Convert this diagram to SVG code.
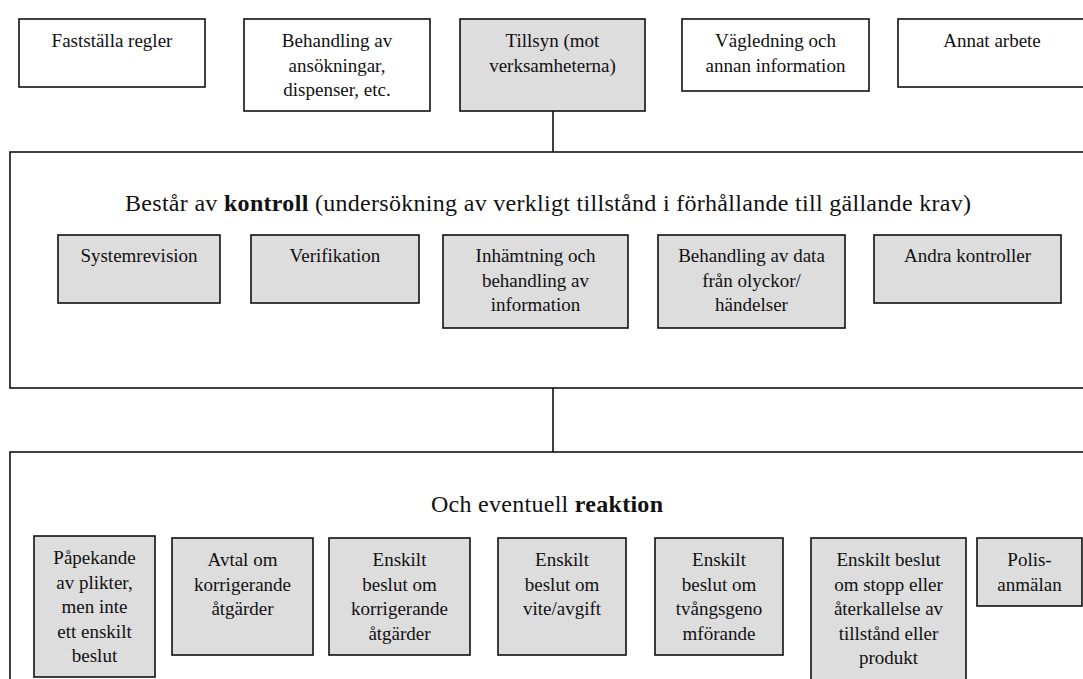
<svg xmlns="http://www.w3.org/2000/svg" width="1083" height="679" viewBox="0 0 1083 679">
  <style>
    .box { fill: #ffffff; stroke: #111111; stroke-width: 1.6; }
    .grey { fill: #dddddd; stroke: #111111; stroke-width: 1.6; }
    .frame { fill: #ffffff; stroke: #111111; stroke-width: 1.6; }
    .lbl { font-family: "Liberation Serif", "Times New Roman", serif; font-size: 19px; fill: #111111; text-anchor: middle; }
    .head { font-family: "Liberation Serif", "Times New Roman", serif; font-size: 24px; fill: #111111; text-anchor: middle; }
    .b { font-weight: bold; }
    .link { stroke: #111111; stroke-width: 1.6; fill: none; }
  </style>

  <rect width="1083" height="679" fill="#ffffff"/>

  <!-- top row: kinds of work -->
  <g id="n-faststalla">
    <rect class="box" x="19" y="19" width="186" height="68"/>
    <text class="lbl" x="112" y="47">Fastställa regler</text>
  </g>
  <g id="n-behandling">
    <rect class="box" x="244" y="19" width="186" height="92"/>
    <text class="lbl" x="337" y="47">Behandling av</text>
    <text class="lbl" x="337" y="71.5">ansökningar,</text>
    <text class="lbl" x="337" y="96">dispenser, etc.</text>
  </g>
  <g id="n-tillsyn">
    <rect class="grey" x="460" y="19" width="185" height="92"/>
    <text class="lbl" x="552.5" y="47">Tillsyn (mot</text>
    <text class="lbl" x="552.5" y="71.5">verksamheterna)</text>
  </g>
  <g id="n-vagledning">
    <rect class="box" x="682" y="19" width="187" height="72"/>
    <text class="lbl" x="775.5" y="47">Vägledning och</text>
    <text class="lbl" x="775.5" y="71.5">annan information</text>
  </g>
  <g id="n-annat">
    <rect class="box" x="898" y="19" width="192" height="68"/>
    <text class="lbl" x="992" y="47">Annat arbete</text>
  </g>

  <!-- connectors -->
  <g id="connectors">
    <line class="link" x1="553" y1="111" x2="553" y2="152"/>
    <line class="link" x1="553" y1="388" x2="553" y2="452"/>
  </g>

  <!-- control section -->
  <g id="n-kontroll">
    <rect class="frame" x="10" y="152" width="1080" height="236"/>
    <text class="head" x="548" y="211" textLength="846" lengthAdjust="spacing">Består av <tspan class="b">kontroll</tspan> (undersökning av verkligt tillstånd i förhållande till gällande krav)</text>
  </g>
  <g id="n-systemrevision">
    <rect class="grey" x="58" y="235" width="162" height="68"/>
    <text class="lbl" x="139" y="262">Systemrevision</text>
  </g>
  <g id="n-verifikation">
    <rect class="grey" x="251" y="235" width="168" height="68"/>
    <text class="lbl" x="335" y="262">Verifikation</text>
  </g>
  <g id="n-inhamtning">
    <rect class="grey" x="443" y="235" width="185" height="93"/>
    <text class="lbl" x="535.5" y="262">Inhämtning och</text>
    <text class="lbl" x="535.5" y="286.5">behandling av</text>
    <text class="lbl" x="535.5" y="311">information</text>
  </g>
  <g id="n-olyckor">
    <rect class="grey" x="658" y="235" width="187" height="93"/>
    <text class="lbl" x="751.5" y="262">Behandling av data</text>
    <text class="lbl" x="751.5" y="286.5">från olyckor/</text>
    <text class="lbl" x="751.5" y="311">händelser</text>
  </g>
  <g id="n-andra">
    <rect class="grey" x="874" y="235" width="187" height="68"/>
    <text class="lbl" x="967.5" y="262">Andra kontroller</text>
  </g>

  <!-- reaction section -->
  <g id="n-reaktion">
    <rect class="frame" x="10" y="452" width="1080" height="240"/>
    <text class="head" x="547" y="512" textLength="232" lengthAdjust="spacing">Och eventuell <tspan class="b">reaktion</tspan></text>
  </g>
  <g id="n-papekande">
    <rect class="grey" x="34" y="536" width="121" height="141"/>
    <text class="lbl" x="94.5" y="564">Påpekande</text>
    <text class="lbl" x="94.5" y="588.5">av plikter,</text>
    <text class="lbl" x="94.5" y="613">men inte</text>
    <text class="lbl" x="94.5" y="637.5">ett enskilt</text>
    <text class="lbl" x="94.5" y="662">beslut</text>
  </g>
  <g id="n-avtal">
    <rect class="grey" x="172" y="538" width="141" height="117"/>
    <text class="lbl" x="242.5" y="566">Avtal om</text>
    <text class="lbl" x="242.5" y="590.5">korrigerande</text>
    <text class="lbl" x="242.5" y="615">åtgärder</text>
  </g>
  <g id="n-korrigerande">
    <rect class="grey" x="329" y="538" width="141" height="117"/>
    <text class="lbl" x="399.5" y="566">Enskilt</text>
    <text class="lbl" x="399.5" y="590.5">beslut om</text>
    <text class="lbl" x="399.5" y="615">korrigerande</text>
    <text class="lbl" x="399.5" y="639.5">åtgärder</text>
  </g>
  <g id="n-vite">
    <rect class="grey" x="498" y="538" width="128" height="117"/>
    <text class="lbl" x="562" y="566">Enskilt</text>
    <text class="lbl" x="562" y="590.5">beslut om</text>
    <text class="lbl" x="562" y="615">vite/avgift</text>
  </g>
  <g id="n-tvangs">
    <rect class="grey" x="655" y="538" width="128" height="117"/>
    <text class="lbl" x="719" y="566">Enskilt</text>
    <text class="lbl" x="719" y="590.5">beslut om</text>
    <text class="lbl" x="719" y="615">tvångsgeno</text>
    <text class="lbl" x="719" y="639.5">mförande</text>
  </g>
  <g id="n-stopp">
    <rect class="grey" x="811" y="538" width="155" height="152"/>
    <text class="lbl" x="888.5" y="566">Enskilt beslut</text>
    <text class="lbl" x="888.5" y="590.5">om stopp eller</text>
    <text class="lbl" x="888.5" y="615">återkallelse av</text>
    <text class="lbl" x="888.5" y="639.5">tillstånd eller</text>
    <text class="lbl" x="888.5" y="664">produkt</text>
  </g>
  <g id="n-polis">
    <rect class="grey" x="977" y="538" width="105" height="68"/>
    <text class="lbl" x="1029.5" y="566">Polis-</text>
    <text class="lbl" x="1029.5" y="590.5">anmälan</text>
  </g>
</svg>
